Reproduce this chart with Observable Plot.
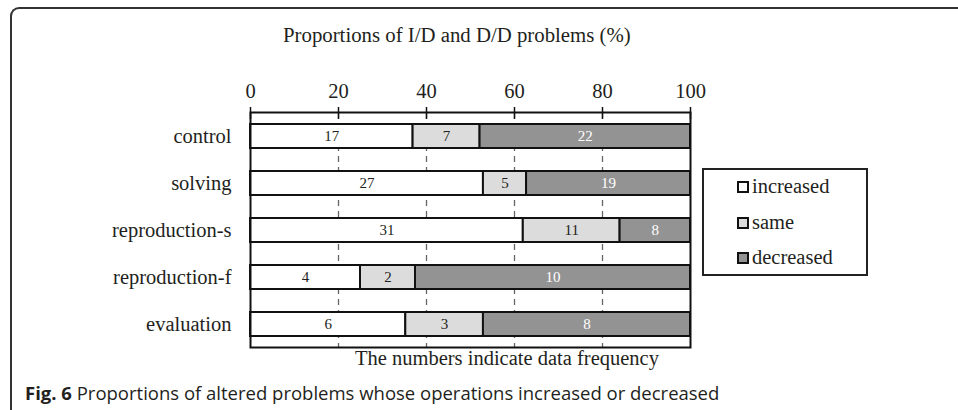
<!DOCTYPE html>
<html><head><meta charset="utf-8">
<script src="https://cdn.jsdelivr.net/npm/d3@7"></script>
<script src="https://cdn.jsdelivr.net/npm/@observablehq/plot@0.6"></script>
<style>
body{margin:0;background:#fff;}
#wrap{position:relative;width:958px;height:410px;overflow:hidden;font-family:"Liberation Serif",serif;color:#231f20;}
#chart{position:absolute;left:0;top:0;}
#border{position:absolute;left:10px;top:7px;width:1000px;height:500px;border-left:2px solid #333;border-top:2px solid #333;border-top-left-radius:9px;pointer-events:none;}
#title{position:absolute;left:283px;top:23px;font-size:20.8px;line-height:24px;white-space:nowrap;}
#note{position:absolute;left:355px;top:346px;font-size:20.5px;line-height:24px;white-space:nowrap;}
#caption{position:absolute;left:25px;top:381px;font-family:"Open Sans",sans-serif;font-size:18.5px;line-height:24px;white-space:nowrap;color:#231f20;}
#legend{position:absolute;left:702px;top:168px;width:162px;height:104px;border:2px solid #222;}
.item{position:absolute;left:33px;font-size:20.5px;line-height:24px;white-space:nowrap;}
.sw{display:inline-block;width:8px;height:8px;border:2px solid #111;margin-right:3px;vertical-align:0px;}
</style></head>
<body><div id="wrap"><div id="chart"></div>
<div id="title">Proportions of I/D and D/D problems (%)</div>
<div id="legend"></div>
<div id="note">The numbers indicate data frequency</div>
<div id="caption"><b>Fig. 6</b> Proportions of altered problems whose operations increased or decreased</div>
<div id="border"></div>
</div>
<script>
const categories = ["control", "solving", "reproduction-s", "reproduction-f", "evaluation"];
const statuses = ["increased", "same", "decreased"];
const increased = [17, 27, 31, 4, 6];
const same = [7, 5, 11, 2, 3];
const decreased = [22, 19, 8, 10, 8];
const xTicks = [0, 20, 40, 60, 80, 100];
const colors = ["#ffffff", "#dcdcdc", "#939393"];
const textColors = ["#231f20", "#231f20", "#ffffff"];

const series = [increased, same, decreased];
const rows = [];
categories.forEach((c, i) => {
  statuses.forEach((s, j) => rows.push({category: c, status: s, value: series[j][i]}));
});

const chart = Plot.plot({
  width: 958,
  height: 410,
  marginLeft: 250,
  marginRight: 268,
  marginTop: 112,
  marginBottom: 63,
  style: {fontFamily: "Liberation Serif, serif", fontSize: "20.5px", color: "#231f20", background: "transparent"},
  x: {domain: [0, 1], label: null},
  y: {domain: categories, paddingInner: 0.49, paddingOuter: 0.245, label: null},
  color: {domain: statuses, range: colors},
  marks: [
    Plot.gridX(xTicks.slice(1, -1).map(d => d / 100), {stroke: "#666", strokeOpacity: 1, strokeWidth: 1.3, strokeDasharray: "6,5"}),
    Plot.barX(rows, Plot.stackX({x: "value", y: "category", fill: "status", z: "status", order: statuses, offset: "normalize", stroke: "#111", strokeWidth: 2})),
    Plot.text(rows, Plot.stackX({x: "value", y: "category", z: "status", order: statuses, offset: "normalize", text: "value", fill: d => textColors[statuses.indexOf(d.status)], fontSize: 15})),
    Plot.frame({stroke: "#111", strokeWidth: 2}),
    Plot.axisX({anchor: "top", ticks: xTicks.map(d => d / 100), tickFormat: d => Math.round(d * 100), tickSize: 6, tickPadding: 9, stroke: "#111", strokeWidth: 1.5, fontSize: 20.5}),
    Plot.axisX({anchor: "top", ticks: xTicks.map(d => d / 100), tickSize: -6, tickFormat: () => "", stroke: "#111", strokeWidth: 1.5}),
    Plot.axisY({tickSize: 0, tickPadding: 19, fontSize: 20.5})
  ]
});
document.getElementById("chart").appendChild(chart);

const legend = document.getElementById("legend");
const centers = [16, 52, 87];
statuses.forEach((s, j) => {
  const it = document.createElement("div");
  it.className = "item";
  it.style.top = (centers[j] - 12) + "px";
  const sw = document.createElement("span");
  sw.className = "sw";
  sw.style.background = colors[j];
  it.appendChild(sw);
  it.appendChild(document.createTextNode(s));
  legend.appendChild(it);
});
</script></body></html>
